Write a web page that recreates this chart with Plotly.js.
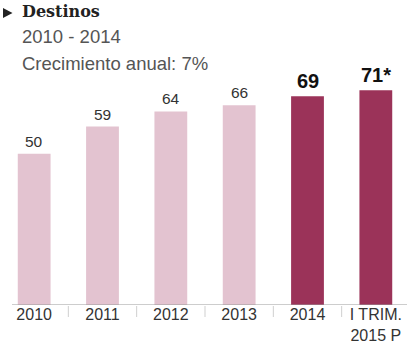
<!DOCTYPE html>
<html>
<head>
<meta charset="utf-8">
<script src="https://cdn.plot.ly/plotly-3.0.1.min.js"></script>
<style>html,body{margin:0;padding:0;background:#fff;}#chart{width:414px;height:345px;}</style>
</head>
<body>
<div id="chart"></div>
<script>
const categories = ['2010', '2011', '2012', '2013', '2014', 'I TRIM.<br>2015 P'];
const values = [50, 59, 64, 66, 69, 71];
const valueNotes = ['', '', '', '', '', '*'];
const highlighted = [false, false, false, false, true, true];
const titleText = 'Destinos';
const subtitle1 = '2010 - 2014';
const subtitle2 = 'Crecimiento anual: 7%';

const W = 414, H = 345;
const M = {l: 0, r: 4, t: 63, b: 40};
const PW = W - M.l - M.r, PH = H - M.t - M.b;
const px = x => (x - M.l) / PW;
const py = y => (M.t + PH - y) / PH;

const light = '#e3c3d0', dark = '#9b3359';

const trace = {
  type: 'bar',
  x: categories,
  y: values,
  marker: {color: highlighted.map(h => h ? dark : light), line: {width: 0}},
  hoverinfo: 'skip'
};

const annotations = [];
categories.forEach((c, i) => {
  annotations.push({
    xref: 'x', yref: 'y', x: i, y: values[i],
    text: String(values[i]) + valueNotes[i],
    showarrow: false, yanchor: 'bottom', yshift: 2,
    font: highlighted[i]
      ? {family: 'Liberation Sans, Arial, sans-serif', size: 20, color: '#111', weight: 'bold'}
      : {family: 'Liberation Sans, Arial, sans-serif', size: 15.5, color: '#333'}
  });
});
annotations.push({xref: 'paper', yref: 'paper', x: px(20), y: py(11.5), xanchor: 'left', yanchor: 'middle',
  text: '<b>' + titleText + '</b>', showarrow: false,
  font: {family: 'DejaVu Serif, serif', size: 16, color: '#222'}});
annotations.push({xref: 'paper', yref: 'paper', x: px(20), y: py(36.5), xanchor: 'left', yanchor: 'middle',
  text: subtitle1, showarrow: false,
  font: {family: 'Liberation Sans, Arial, sans-serif', size: 18.5, color: '#555'}});
annotations.push({xref: 'paper', yref: 'paper', x: px(20), y: py(63), xanchor: 'left', yanchor: 'middle',
  text: subtitle2, showarrow: false,
  font: {family: 'Liberation Sans, Arial, sans-serif', size: 18.5, color: '#555'}});

const shapes = [
  {type: 'path', xref: 'paper', yref: 'paper',
   path: `M ${px(3)} ${py(8)} L ${px(12.5)} ${py(13)} L ${px(3)} ${py(18)} Z`,
   fillcolor: '#222', line: {width: 0}},
  {type: 'line', xref: 'paper', yref: 'y', x0: px(12), x1: px(407), y0: 0, y1: 0,
   line: {color: '#9a9a9a', width: 1}}
];
for (let i = 0; i < categories.length - 1; i++) {
  shapes.push({type: 'line', xref: 'x', yref: 'paper', x0: i + 0.5, x1: i + 0.5,
    y0: py(306), y1: py(317), line: {color: '#cfcfcf', width: 1}});
}

const layout = {
  width: W, height: H,
  margin: M,
  paper_bgcolor: '#fff', plot_bgcolor: '#fff',
  showlegend: false,
  bargap: 0.52,
  xaxis: {type: 'category', range: [-0.5, categories.length - 0.5], autorange: false,
    showgrid: false, showline: false, zeroline: false, ticks: '',
    ticklabelstandoff: -2,
    tickfont: {family: 'Liberation Sans, Arial, sans-serif', size: 16, color: '#333'},
    fixedrange: true},
  yaxis: {range: [0, 80], visible: false, showgrid: false, zeroline: false, fixedrange: true},
  annotations: annotations,
  shapes: shapes
};

Plotly.newPlot('chart', [trace], layout, {displayModeBar: false, staticPlot: true});
</script>
</body>
</html>
